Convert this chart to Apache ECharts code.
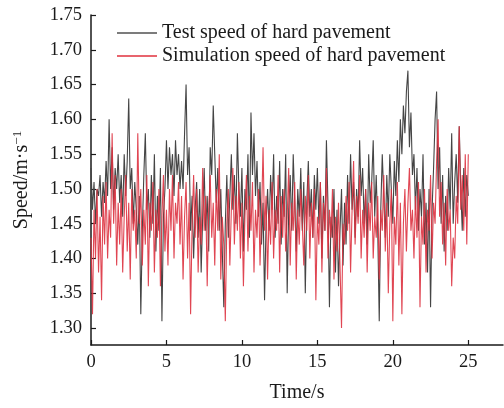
<!DOCTYPE html>
<html><head><meta charset="utf-8">
<script src="https://cdn.jsdelivr.net/npm/echarts@6/dist/echarts.min.js"></script>
<style>html,body{margin:0;padding:0;background:#fff}#c{width:504px;height:408px}</style>
</head><body><div id="c"></div>
<script>
var timeStep = 0.1;
var xTicks = [0, 5, 10, 15, 20, 25];
var yTicks = [1.30, 1.35, 1.40, 1.45, 1.50, 1.55, 1.60, 1.65, 1.70, 1.75];
var seriesNames = ['Test speed of hard pavement', 'Simulation speed of hard pavement'];
var testSpeed = [
1.53,1.47,1.51,1.45,1.50,1.49,1.52,1.46,1.51,1.48,
1.54,1.49,1.60,1.50,1.56,1.47,1.53,1.50,1.55,1.48,
1.52,1.46,1.55,1.49,1.54,1.63,1.50,1.53,1.45,1.51,
1.47,1.42,1.49,1.32,1.44,1.52,1.58,1.47,1.50,1.43,
1.52,1.45,1.55,1.41,1.49,1.44,1.53,1.31,1.46,1.50,
1.57,1.50,1.56,1.52,1.55,1.49,1.57,1.52,1.55,1.50,
1.54,1.50,1.58,1.65,1.52,1.56,1.44,1.49,1.40,1.47,
1.51,1.43,1.50,1.38,1.46,1.53,1.44,1.49,1.41,1.56,
1.52,1.62,1.55,1.48,1.53,1.44,1.50,1.41,1.33,1.45,
1.52,1.43,1.49,1.55,1.47,1.52,1.45,1.58,1.50,1.46,
1.53,1.41,1.50,1.47,1.55,1.43,1.61,1.52,1.58,1.49,
1.54,1.46,1.51,1.42,1.48,1.34,1.45,1.50,1.44,1.52,
1.47,1.55,1.43,1.49,1.45,1.54,1.42,1.50,1.46,1.55,
1.35,1.47,1.52,1.44,1.55,1.48,1.41,1.50,1.46,1.53,
1.44,1.51,1.35,1.48,1.54,1.46,1.50,1.43,1.52,1.47,
1.53,1.45,1.51,1.40,1.49,1.44,1.57,1.48,1.33,1.46,
1.43,1.50,1.38,1.47,1.36,1.44,1.50,1.39,1.48,1.42,
1.52,1.45,1.55,1.47,1.51,1.43,1.50,1.46,1.57,1.49,
1.53,1.45,1.50,1.42,1.55,1.48,1.51,1.57,1.46,1.52,
1.44,1.31,1.47,1.55,1.49,1.43,1.52,1.46,1.55,1.50,
1.45,1.54,1.49,1.57,1.51,1.60,1.55,1.62,1.58,1.64,
1.67,1.56,1.61,1.52,1.55,1.47,1.53,1.44,1.50,1.46,
1.55,1.42,1.48,1.38,1.50,1.33,1.47,1.53,1.60,1.64,
1.50,1.56,1.45,1.52,1.41,1.49,1.44,1.53,1.47,1.58,
1.45,1.51,1.55,1.48,1.59,1.50,1.44,1.53,1.46,1.52,
1.49];
var simSpeed = [
1.43,1.32,1.47,1.40,1.50,1.38,1.46,1.34,1.49,1.42,
1.51,1.40,1.47,1.43,1.58,1.45,1.52,1.39,1.48,1.42,
1.50,1.38,1.46,1.52,1.41,1.48,1.37,1.50,1.44,1.47,
1.40,1.58,1.45,1.50,1.39,1.47,1.42,1.52,1.36,1.48,
1.44,1.51,1.38,1.47,1.43,1.50,1.36,1.46,1.52,1.41,
1.47,1.39,1.50,1.44,1.52,1.40,1.48,1.45,1.51,1.42,
1.49,1.37,1.46,1.51,1.40,1.48,1.32,1.45,1.52,1.43,
1.50,1.38,1.46,1.42,1.53,1.44,1.49,1.36,1.47,1.52,
1.43,1.48,1.39,1.50,1.44,1.55,1.37,1.46,1.42,1.31,
1.45,1.50,1.39,1.47,1.53,1.42,1.49,1.44,1.51,1.40,
1.48,1.36,1.46,1.52,1.41,1.49,1.44,1.51,1.38,1.47,
1.43,1.50,1.39,1.46,1.56,1.44,1.49,1.37,1.47,1.42,
1.51,1.40,1.47,1.44,1.52,1.38,1.49,1.43,1.50,1.41,
1.46,1.53,1.39,1.48,1.44,1.51,1.37,1.47,1.42,1.50,
1.45,1.39,1.49,1.44,1.52,1.40,1.48,1.43,1.50,1.34,
1.46,1.42,1.51,1.38,1.48,1.44,1.53,1.40,1.47,1.43,
1.50,1.37,1.46,1.41,1.48,1.39,1.30,1.45,1.42,1.49,
1.44,1.51,1.38,1.47,1.54,1.42,1.49,1.45,1.52,1.40,
1.47,1.43,1.50,1.38,1.48,1.44,1.51,1.40,1.46,1.43,
1.49,1.37,1.47,1.44,1.52,1.41,1.48,1.35,1.45,1.50,
1.31,1.46,1.42,1.51,1.39,1.48,1.32,1.45,1.50,1.41,
1.48,1.53,1.44,1.47,1.40,1.49,1.43,1.51,1.33,1.46,
1.42,1.50,1.38,1.47,1.44,1.52,1.40,1.48,1.45,1.54,
1.60,1.46,1.51,1.42,1.48,1.39,1.50,1.44,1.47,1.36,
1.43,1.40,1.49,1.45,1.59,1.47,1.52,1.44,1.55,1.42,
1.55];

function pairs(arr){ return arr.map(function(v,i){ return [Math.round(i*timeStep*10)/10, v]; }); }
var font = 'Liberation Serif, Times New Roman, serif';
var axisColor = '#1a1a1a';
var chart = echarts.init(document.getElementById('c'), null, {renderer:'canvas'});
chart.setOption({
  animation:false,
  backgroundColor:'#fff',
  grid:{left:91, top:15, right:1, bottom:61, containLabel:false},
  legend:{
    orient:'vertical', left:112, top:18, itemWidth:40, itemHeight:1.5, itemGap:3,
    icon:'rect',
    textStyle:{fontFamily:font, fontSize:20, color:'#1a1a1a', padding:[0,0,0,0]},
    data:[{name:seriesNames[0], itemStyle:{color:'#505050'}},{name:seriesNames[1], itemStyle:{color:'#e0303c'}}]
  },
  xAxis:{
    type:'value', min:0, max:27.3,
    name:'Time/s', nameLocation:'middle', nameGap:38,
    nameTextStyle:{fontFamily:font, fontSize:20, color:'#1a1a1a'},
    axisLine:{show:true, onZero:false, lineStyle:{color:axisColor, width:1.5}},
    axisTick:{show:true, inside:true, length:5, customValues:xTicks, lineStyle:{color:axisColor, width:1.2}},
    axisLabel:{customValues:xTicks, fontFamily:font, fontSize:18.5, color:'#1a1a1a', margin:8},
    splitLine:{show:false}
  },
  yAxis:{
    type:'value', min:1.2757, max:1.75,
    name:'{a|Speed/m·s}{b|−1}', nameLocation:'middle', nameGap:58, nameRotate:90,
    nameTextStyle:{fontFamily:font, fontSize:20, color:'#1a1a1a', rich:{a:{fontFamily:font, fontSize:20, color:'#1a1a1a'}, b:{fontFamily:font, fontSize:13, color:'#1a1a1a', verticalAlign:'top', padding:[0,0,9,0]}}},
    axisLine:{show:true, lineStyle:{color:axisColor, width:1.5}},
    axisTick:{show:true, inside:true, length:5, customValues:yTicks, lineStyle:{color:axisColor, width:1.2}},
    axisLabel:{customValues:yTicks, fontFamily:font, fontSize:18.5, color:'#1a1a1a', margin:9, formatter:function(v){return v.toFixed(2);}},
    splitLine:{show:false}
  },
  series:[
    {name:seriesNames[0], type:'line', data:pairs(testSpeed), showSymbol:false, symbol:'none', lineStyle:{color:'#454545', width:1.1}, itemStyle:{color:'#505050'}, z:2},
    {name:seriesNames[1], type:'line', data:pairs(simSpeed), showSymbol:false, symbol:'none', lineStyle:{color:'#dd3240', width:1.1, opacity:0.9}, itemStyle:{color:'#e0303c'}, z:3}
  ]
});
</script></body></html>
